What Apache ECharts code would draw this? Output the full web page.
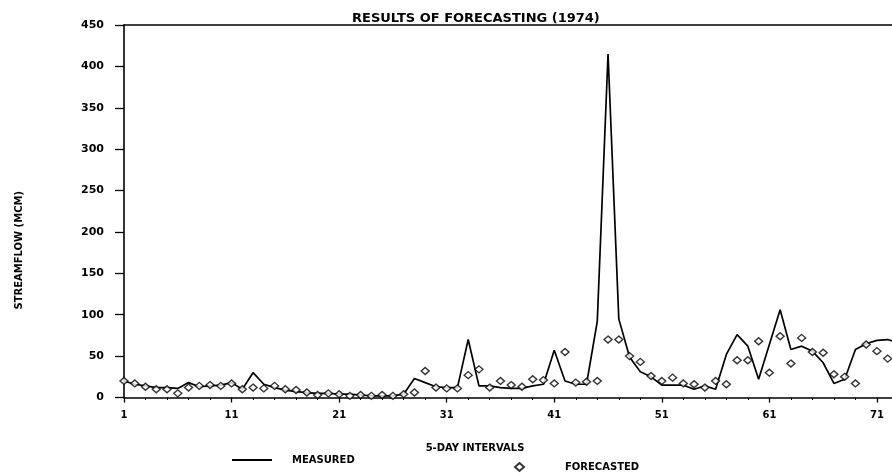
<!DOCTYPE html>
<html>
<head>
<meta charset="utf-8">
<script src="https://cdn.jsdelivr.net/npm/echarts@6/dist/echarts.min.js"></script>
<style>
html,body{margin:0;padding:0;background:#fff;}
#chart{width:892px;height:476px;}
</style>
</head>
<body>
<div id="chart"></div>
<script>
// 5-day interval index (1974)
const intervals = [1,2,3,4,5,6,7,8,9,10,11,12,13,14,15,16,17,18,19,20,21,22,23,24,25,26,27,28,29,30,31,32,33,34,35,36,37,38,39,40,41,42,43,44,45,46,47,48,49,50,51,52,53,54,55,56,57,58,59,60,61,62,63,64,65,66,67,68,69,70,71,72,73];
// Measured streamflow (MCM)
const measured = [20,16,14,12,12,11,18,13,14,15,18,10,30,16,12,9,7,6,5,5,4,4,3,2,2,2,4,23,18,13,12,12,70,14,14,12,11,11,14,16,57,20,16,16,92,415,95,49,31,25,15,15,15,10,14,10,52,76,62,22,64,106,58,62,56,42,17,22,58,65,69,70,66];
// Forecasted streamflow (MCM)
const forecasted = [20,17,13,10,10,5,12,14,15,14,17,10,12,11,14,10,9,6,3,5,4,2,3,2,3,2,4,6,32,12,11,11,27,34,12,20,15,13,22,21,17,55,18,19,20,70,70,50,43,26,20,24,17,16,12,20,16,45,45,68,30,74,41,72,55,54,28,25,17,64,56,47,42];
const xLabelValues = [1,11,21,31,41,51,61,71];
const xMinorTicks = [3,5,7,9,13,15,17,19,23,25,27,29,33,35,37,39,43,45,47,49,53,55,57,59,63,65,67,69];

const FONT = '"DejaVu Sans", sans-serif';
const chart = echarts.init(document.getElementById('chart'), null, {renderer:'canvas'});
const measuredData = intervals.map((x,i)=>[x, measured[i]]);
const forecastData = intervals.map((x,i)=>[x, forecasted[i]]);

chart.setOption({
  backgroundColor:'#fff',
  animation:false,
  title:{
    text:'RESULTS OF FORECASTING (1974)',
    left:347, top:7,
    textStyle:{fontFamily:FONT, fontSize:13, fontWeight:'bold', color:'#000'}
  },
  legend:[
    {data:[{name:'MEASURED', icon:'rect'}], left:227, top:450, itemWidth:40, itemHeight:1.8, selectedMode:false,
     textStyle:{fontFamily:FONT, fontSize:10, fontWeight:'bold', color:'#000', padding:[0,0,0,15]}},
    {data:['FORECASTED'], left:509, top:457, itemWidth:9, itemHeight:8, selectedMode:false,
     textStyle:{fontFamily:FONT, fontSize:10, fontWeight:'bold', color:'#000', padding:[4,0,0,36]}}
  ],
  grid:{left:124, top:25, right:0, bottom:78.5, containLabel:false},
  xAxis:[
    {type:'value', min:1, max:72.4, position:'bottom',
     name:'5-DAY INTERVALS', nameLocation:'middle', nameGap:46,
     nameTextStyle:{fontFamily:FONT, fontSize:10, fontWeight:'bold', color:'#000', padding:[0,66,0,0]},
     axisLine:{show:true, onZero:false, lineStyle:{color:'#000', width:1.6}},
     axisTick:{show:true, customValues:xLabelValues, length:5, lineStyle:{color:'#000', width:1.3}},
     axisLabel:{customValues:xLabelValues, margin:13, fontFamily:FONT, fontSize:10, fontWeight:'bold', color:'#000'},
     splitLine:{show:false}},
    {type:'value', min:1, max:72.4, position:'bottom',
     axisLine:{show:false},
     axisTick:{show:true, customValues:xMinorTicks, length:2.5, lineStyle:{color:'#000', width:1}},
     axisLabel:{show:false}, splitLine:{show:false}},
    {type:'value', min:1, max:72.4, position:'top',
     axisLine:{show:true, onZero:false, lineStyle:{color:'#000', width:1.6}},
     axisTick:{show:false}, axisLabel:{show:false}, splitLine:{show:false}}
  ],
  yAxis:{
    type:'value', min:0, max:450, interval:50,
    name:'STREAMFLOW (MCM)', nameLocation:'middle', nameGap:100, nameRotate:90,
    nameTextStyle:{fontFamily:FONT, fontSize:10, fontWeight:'bold', color:'#000', padding:[0,78,0,0]},
    axisLine:{show:true, onZero:false, lineStyle:{color:'#000', width:1.6}},
    axisTick:{show:true, length:9, lineStyle:{color:'#000', width:1.3}},
    axisLabel:{margin:20, fontFamily:FONT, fontSize:11, fontWeight:'bold', color:'#000'},
    splitLine:{show:false}
  },
  series:[
    {name:'MEASURED', type:'line', xAxisIndex:0, data:measuredData, symbol:'none',
     lineStyle:{color:'#000', width:1.7}, itemStyle:{color:'#000'}, z:2},
    {name:'FORECASTED', type:'scatter', xAxisIndex:0, data:forecastData, symbol:'diamond', symbolSize:[8,7],
     itemStyle:{color:'#fff', borderColor:'#000', borderWidth:1.4}, z:3}
  ]
});
</script>
</body>
</html>
